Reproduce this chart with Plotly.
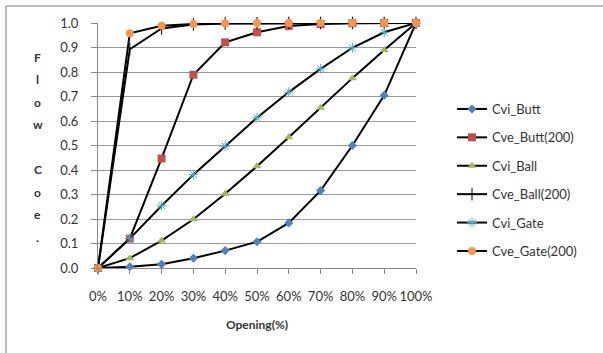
import plotly.graph_objects as go

# Valve opening positions
openings = ["0%", "10%", "20%", "30%", "40%", "50%", "60%", "70%", "80%", "90%", "100%"]

# Flow coefficient curves per valve type
cvi_butt = [0.0, 0.005, 0.015, 0.04, 0.071, 0.107, 0.184, 0.316, 0.50, 0.705, 1.0]
cve_butt_200 = [0.0, 0.12, 0.447, 0.789, 0.921, 0.962, 0.988, 0.996, 0.999, 1.0, 1.0]
cvi_ball = [0.0, 0.04, 0.112, 0.199, 0.303, 0.415, 0.534, 0.654, 0.775, 0.89, 1.0]
cve_ball_200 = [0.0, 0.893, 0.978, 0.994, 0.998, 0.999, 1.0, 1.0, 1.0, 1.0, 1.0]
cvi_gate = [0.0, 0.12, 0.254, 0.381, 0.497, 0.613, 0.718, 0.813, 0.899, 0.962, 1.0]
cve_gate_200 = [0.0, 0.958, 0.989, 0.996, 0.999, 1.0, 1.0, 1.0, 1.0, 1.0, 1.0]

# Vertical y-axis title, one character per line
y_title_chars = ["F", "l", "o", "w", "", "C", "o", "e", "."]

series = [
    ("Cvi_Butt", cvi_butt, dict(symbol="diamond", size=7, color="#4F81BD")),
    ("Cve_Butt(200)", cve_butt_200, dict(symbol="square", size=8, color="#C0504D")),
    ("Cvi_Ball", cvi_ball, dict(symbol="triangle-up", size=8, color="#9BBB59")),
    ("Cve_Ball(200)", cve_ball_200,
     dict(symbol="line-ns-open", size=9, color="#000000", line=dict(width=1, color="#000000"))),
    ("Cvi_Gate", cvi_gate,
     dict(symbol="asterisk-open", size=8, color="#4BACC6", line=dict(width=1, color="#4BACC6"))),
    ("Cve_Gate(200)", cve_gate_200, dict(symbol="circle", size=8, color="#F79646")),
]

fig = go.Figure()
for i, (name, vals, marker) in enumerate(series):
    fig.add_trace(go.Scatter(
        x=openings, y=vals, name=name, mode="lines+markers",
        line=dict(color="#000000", width=2),
        marker=marker, cliponaxis=False, legendgroup=f"g{i}",
    ))

W, H = 603, 353
L, R, T, B = 98, 187, 23, 85
pw, ph = W - L - R, H - T - B

def px_x(p):
    return (p - L) / pw

def px_y(p):
    return (H - B - p) / ph

font_main = "Lato, 'Open Sans', sans-serif"
text_col = "#333333"

annotations = []
for i, ch in enumerate(y_title_chars):
    if not ch:
        continue
    annotations.append(dict(
        text=f"<b>{ch}</b>", xref="paper", yref="paper",
        x=px_x(38), y=px_y(57 + 22.5 * i), xanchor="center", yanchor="middle",
        showarrow=False, font=dict(size=12, color=text_col),
    ))

fig.update_layout(
    width=W, height=H,
    margin=dict(l=L, r=R, t=T, b=B),
    paper_bgcolor="white", plot_bgcolor="white",
    font=dict(family=font_main, size=13, color=text_col),
    showlegend=True,
    legend=dict(
        x=px_x(452), y=px_y(94), xanchor="left", yanchor="top",
        font=dict(size=13, color=text_col),
        tracegroupgap=8.5, bgcolor="rgba(0,0,0,0)",
    ),
    xaxis=dict(
        type="category", range=[0, 10],
        showgrid=False, showline=True, linecolor="#888888", linewidth=1,
        ticks="outside", ticklen=5, tickcolor="#888888",
        tickfont=dict(size=13), ticklabelstandoff=11,
        title=dict(text="<b>Opening(%)</b>", font=dict(size=12), standoff=18),
    ),
    yaxis=dict(
        range=[0, 1.0], dtick=0.1, tickformat=".1f",
        showgrid=True, gridcolor="#999999", gridwidth=1,
        showline=True, linecolor="#888888", linewidth=1,
        ticks="outside", ticklen=6, tickcolor="#888888",
        tickfont=dict(size=13), ticklabelstandoff=10, zeroline=False,
    ),
    shapes=[
        # chart-area frame: top and left edges
        dict(type="line", xref="paper", yref="paper",
             x0=px_x(6), x1=px_x(603), y0=px_y(6), y1=px_y(6),
             line=dict(color="#a8a8a8", width=1.5), layer="below"),
        dict(type="line", xref="paper", yref="paper",
             x0=px_x(6), x1=px_x(6), y0=px_y(6), y1=px_y(353),
             line=dict(color="#a8a8a8", width=1.5), layer="below"),
    ],
    annotations=annotations,
)

fig.write_html("out.html")
